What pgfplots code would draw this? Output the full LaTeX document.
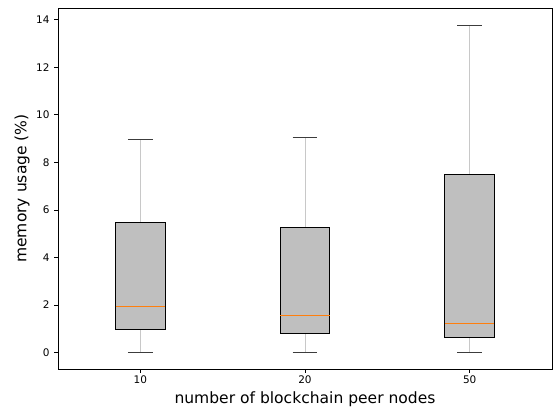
\documentclass[border=0pt]{standalone}
\usepackage{fontspec}
\setmainfont{DejaVu Sans}
\usepackage{pgfplots}
\pgfplotsset{compat=1.18}
\usepgfplotslibrary{statistics}
\definecolor{boxfill}{RGB}{191,191,191}
\definecolor{whisk}{RGB}{200,200,200}
\definecolor{capc}{RGB}{60,60,60}
\definecolor{medorange}{RGB}{255,127,14}
\pgfplotsset{
  boxplot/draw/whisker/.code 2 args={%
    \draw[whisk, line width=1bp] (boxplot cs:#1) -- (boxplot cs:#2);
    \draw[capc, line width=1bp] (boxplot whisker cs:#2,0) -- (boxplot whisker cs:#2,1);
  },
  boxplot/draw/median/.code={}
}
\begin{document}
\begin{tikzpicture}
\useasboundingbox (-58bp,-43bp) rectangle (498bp,369bp);
\begin{axis}[
  scale only axis, width=494bp, height=361bp,
  xmin=0.5, xmax=3.5, ymin=-0.69, ymax=14.49,
  xtick={1,2,3}, xticklabels={10,20,50},
  ytick={0,2,4,6,8,10,12,14},
  tick align=outside, xtick pos=bottom, ytick pos=left,
  major tick length=3.5bp,
  tick style={black, line width=0.8bp},
  axis line style={black, line width=0.8bp},
  ticklabel style={font=\fontsize{10.5}{12}\selectfont},
  yticklabel style={xshift=-1.5bp},
  /pgf/number format/assume math mode=true,
  xlabel={number of blockchain peer nodes},
  ylabel={memory usage (\%)},
  label style={font=\fontsize{15.6}{18}\selectfont},
  x label style={at={(axis description cs:0.5,-0.0831)}, anchor=center},
  y label style={at={(axis description cs:-0.0729,0.5)}, anchor=center},
  boxplot/draw direction=y,
  boxplot/box extend=0.3,
  boxplot/whisker extend=0.15,
  boxplot/every box/.style={draw=black, fill=boxfill, line width=1bp},
]
\addplot[boxplot prepared={draw position=1, lower whisker=0, lower quartile=0.97, median=1.94, upper quartile=5.46, upper whisker=8.95}] coordinates {};
\addplot[boxplot prepared={draw position=2, lower whisker=0, lower quartile=0.80, median=1.56, upper quartile=5.26, upper whisker=9.03}] coordinates {};
\addplot[boxplot prepared={draw position=3, lower whisker=0, lower quartile=0.63, median=1.22, upper quartile=7.50, upper whisker=13.76}] coordinates {};
% medians
\addplot[medorange, line width=1.3bp, mark=none] coordinates {(0.85,1.94) (1.15,1.94)};
\addplot[medorange, line width=1.3bp, mark=none] coordinates {(1.85,1.56) (2.15,1.56)};
\addplot[medorange, line width=1.3bp, mark=none] coordinates {(2.85,1.22) (3.15,1.22)};
\end{axis}
\end{tikzpicture}
\end{document}
